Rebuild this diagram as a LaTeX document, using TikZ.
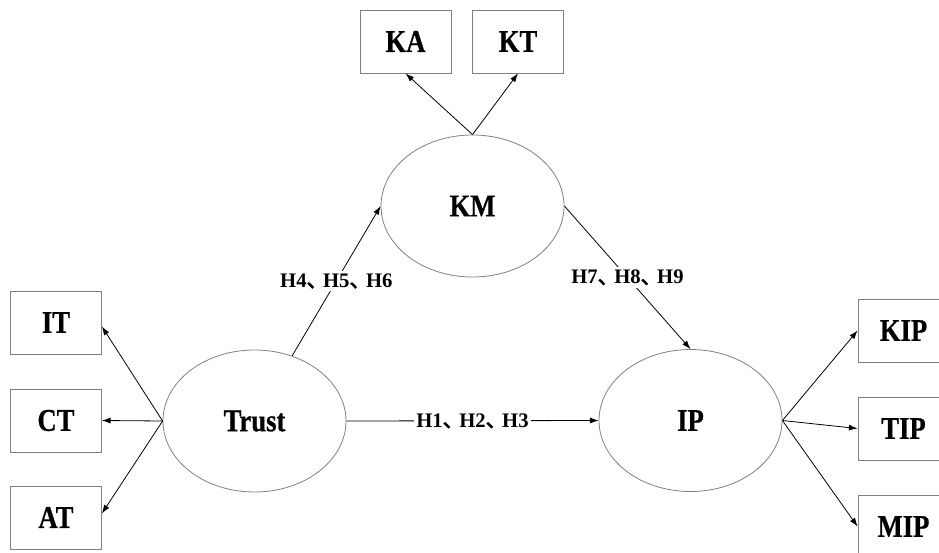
\documentclass[tikz,border=0pt]{standalone}
\usepackage{fontspec}
\setmainfont{Liberation Serif}
\newfontfamily\condensed{Liberation Serif}[FakeStretch=0.84, BoldFeatures={FakeBold=0.6}]
\newfontfamily\cjk{Noto Sans CJK SC}[FakeBold=3]
\usetikzlibrary{shapes.geometric,arrows.meta}
\definecolor{bordergray}{RGB}{128,128,128}
\newcommand{\dun}{\makebox[0.8em][l]{\cjk\mdseries 、}}
\begin{document}
\begin{tikzpicture}[x=0.75pt,y=-0.75pt,
  latent/.style={ellipse, draw=bordergray, line width=0.6pt, minimum width=137.25pt, minimum height=106.5pt, inner sep=0pt, font=\condensed\fontsize{23.8}{26}\selectfont\bfseries},
  indicator/.style={rectangle, draw=bordergray, line width=0.6pt, minimum width=68.25pt, minimum height=47.25pt, inner sep=0pt, font=\condensed\fontsize{23.8}{26}\selectfont\bfseries},
  arr/.style={-{Latex[length=6.5pt,width=4.5pt]}, line width=0.6pt, black},
  hyp/.style={fill=white, inner sep=2pt, font=\fontsize{15.5}{17}\selectfont\bfseries}]
\useasboundingbox (0,0) rectangle (939,553);
\clip (0,0) rectangle (939,553);
\node[latent] (KM) at (472.5,206) {KM};
\node[latent] (Trust) at (254.5,421) {Trust};
\node[latent] (IP) at (690.5,420.5) {IP};
\node[indicator] (KA) at (405.5,41.5) {KA};
\node[indicator] (KT) at (518,41.5) {KT};
\node[indicator] (IT) at (56,322.5) {IT};
\node[indicator] (CT) at (56,420.5) {CT};
\node[indicator] (AT) at (56,517.5) {AT};
\node[indicator] (KIP) at (903.5,330.5) {KIP};
\node[indicator] (TIP) at (903.5,428.5) {TIP};
\node[indicator] (MIP) at (903.5,526.5) {MIP};
\draw[arr] (KM.north) -- (KA.south);
\draw[arr] (KM.north) -- (KT.south);
\draw[arr] (Trust.west) -- ([yshift=-3pt]IT.east);
\draw[arr] (Trust.west) -- (CT.east);
\draw[arr] (Trust.west) -- ([yshift=3pt]AT.east);
\draw[arr] (IP.east) -- (KIP.west);
\draw[arr] (IP.east) -- (TIP.west);
\draw[arr] (IP.east) -- (MIP.west);
\draw[arr] (Trust.east) -- node[hyp] {H1\dun H2\dun H3} (IP.west);
\draw[arr] (Trust.60) -- node[hyp] {H4\dun H5\dun H6} (KM.west);
\draw[arr] (KM.east) -- node[hyp] {H7\dun H8\dun H9} (IP.north);
\end{tikzpicture}
\end{document}
